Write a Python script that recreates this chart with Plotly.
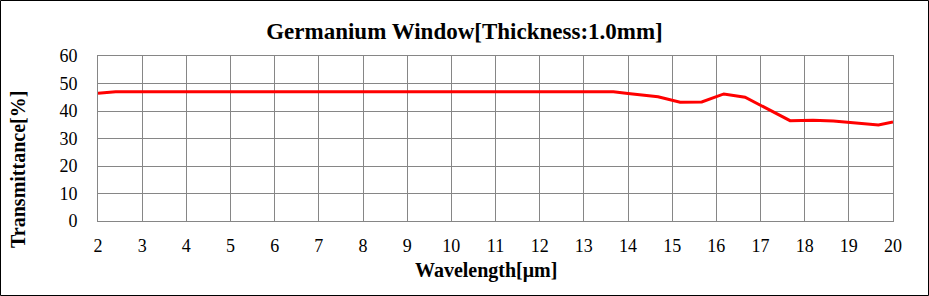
import plotly.graph_objects as go

wavelength = [2.0, 2.4, 3, 4, 5, 6, 7, 8, 9, 10, 11, 12, 13, 13.67, 14.0, 14.68, 15.18, 15.67, 16.17, 16.65, 17.67, 18.19, 18.65, 19.02, 19.67, 20.0]
transmittance = [46.5, 47.0, 47, 47, 47, 47, 47, 47, 47, 47, 47, 47, 47, 47.0, 46.4, 45.2, 43.2, 43.3, 46.2, 45.0, 36.5, 36.6, 36.4, 35.9, 34.9, 36.0]
x_ticks = list(range(2, 21))
y_ticks = [0, 10, 20, 30, 40, 50, 60]

W, H = 929, 296
L, R, T, B = 98, 36, 56, 75
pw, ph = W - L - R, H - T - B

font = "Liberation Serif, Times New Roman, serif"
fig = go.Figure()
fig.add_trace(go.Scatter(x=wavelength, y=transmittance, mode="lines",
                         line=dict(color="#ff0000", width=3), hoverinfo="skip"))

fig.update_layout(
    width=W, height=H,
    margin=dict(l=L, r=R, t=T, b=B),
    paper_bgcolor="white", plot_bgcolor="white",
    showlegend=False,
    title=dict(text="<b>Germanium Window[Thickness:1.0mm]</b>", x=0.5, xanchor="center",
               y=1 - 31 / H, yanchor="middle", font=dict(family=font, size=23, color="black")),
    font=dict(family=font, color="black"),
)
fig.update_xaxes(range=[2, 20], tickvals=x_ticks, showgrid=True, gridcolor="#868686", gridwidth=1,
                 showline=True, linecolor="#868686", linewidth=1, mirror=True, zeroline=False,
                 ticks="", tickfont=dict(size=18, family=font), ticklabelstandoff=8)
fig.update_yaxes(range=[0, 60], tickvals=y_ticks, showgrid=True, gridcolor="#868686", gridwidth=1,
                 showline=True, linecolor="#868686", linewidth=1, mirror=True, zeroline=False,
                 ticks="", tickfont=dict(size=18, family=font), ticklabelstandoff=16)

fig.add_annotation(text="<b>Wavelength[μm]</b>", xref="paper", yref="paper",
                   x=(486 - L) / pw, y=(H - B - 270) / ph, xanchor="center", yanchor="middle",
                   showarrow=False, font=dict(size=20, family=font, color="black"))
fig.add_annotation(text="<b>Transmittance[%]</b>", xref="paper", yref="paper",
                   x=(18 - L) / pw, y=(H - B - 170) / ph, xanchor="center", yanchor="middle",
                   textangle=-90, showarrow=False, font=dict(size=20, family=font, color="black"))

fig.add_shape(type="rect", xref="paper", yref="paper",
              x0=(0.5 - L) / pw, x1=(W - 0.5 - L) / pw,
              y0=(H - B - (H - 0.5)) / ph, y1=(H - B - 0.5) / ph,
              line=dict(color="black", width=1), layer="above")

fig.write_html("out.html")
